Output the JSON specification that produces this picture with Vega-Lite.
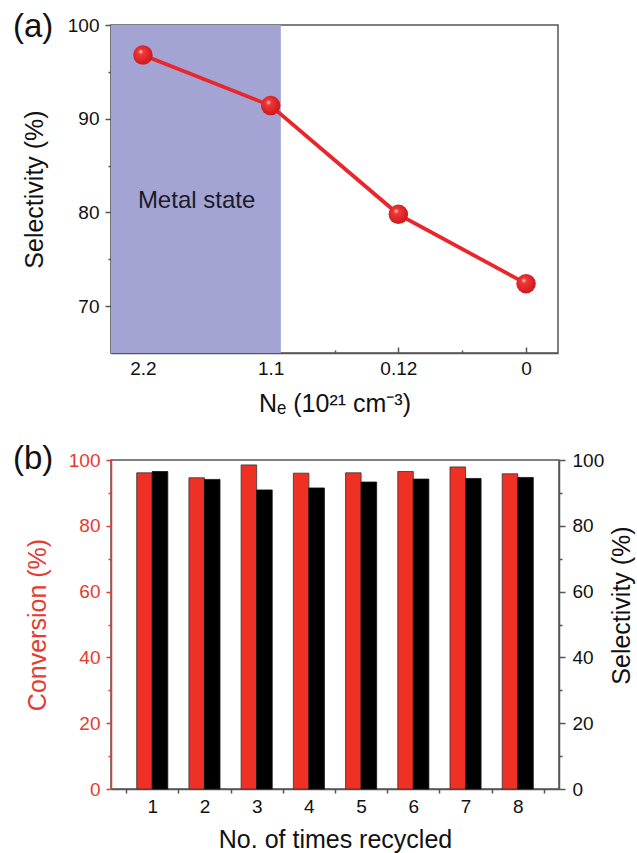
{
  "$schema": "https://vega.github.io/schema/vega-lite/v6.json",
  "padding": {"left": 12, "top": 10, "right": 0, "bottom": 0},
  "background": "white",
  "config": {
    "font": "Liberation Sans",
    "view": {"stroke": "#555555", "strokeWidth": 1.5},
    "axis": {
      "labelFont": "Liberation Sans", "titleFont": "Liberation Sans",
      "labelFontSize": 19, "titleFontSize": 25, "titleFontWeight": "normal",
      "labelColor": "#111111", "titleColor": "#111111",
      "domainColor": "#555555", "domainWidth": 1.5,
      "tickColor": "#555555", "tickWidth": 1.5,
      "grid": false, "labelFlush": false, "labelOverlap": false
    },
    "title": {"font": "Liberation Sans", "fontSize": 33, "fontWeight": "normal", "color": "#111111", "anchor": "start", "frame": "group", "offset": 0, "baseline": "alphabetic"}
  },
  "bounds": "flush",
  "spacing": 107,
  "vconcat": [
    {
      "width": 447,
      "height": 328,
      "title": {"text": "(a)", "dx": -98, "dy": 32},
      "data": {"values": [
        {"Ne": "2.2", "idx": 0, "sel": 96.8},
        {"Ne": "1.1", "idx": 1, "sel": 91.4},
        {"Ne": "0.12", "idx": 2, "sel": 79.8},
        {"Ne": "0", "idx": 3, "sel": 72.4}
      ]},
      "layer": [
        {
          "data": {"values": [{"region": "Metal state", "from": -0.25, "to": 1.08, "lo": 65, "hi": 100}]},
          "mark": {"type": "rect", "color": "#a4a4d4"},
          "encoding": {
            "x": {"field": "from", "type": "quantitative", "scale": {"domain": [-0.25, 3.25], "nice": false, "zero": false},
                  "axis": {"orient": "bottom", "values": [0, 1, 2, 3], "labelExpr": "['2.2','1.1','0.12','0'][datum.value]", "title": "Nₑ (10²¹ cm⁻³)", "tickSize": -6, "labelPadding": 12, "titlePadding": 13}},
            "x2": {"field": "to"},
            "y": {"field": "lo", "type": "quantitative", "scale": {"domain": [65, 100], "nice": false, "zero": false},
                  "axis": {"orient": "left", "values": [70, 80, 90, 100], "title": "Selectivity (%)", "tickSize": 6, "labelPadding": 6, "titlePadding": 20}},
            "y2": {"field": "hi"}
          }
        },
        {
          "mark": {"type": "line", "color": "#e8262b", "strokeWidth": 3.8},
          "encoding": {
            "x": {"field": "idx", "type": "quantitative", "axis": {"orient": "bottom", "values": [0.5, 1.5, 2.5], "labels": false, "domain": false, "tickSize": -3, "title": null}},
            "y": {"field": "sel", "type": "quantitative", "axis": {"orient": "left", "values": [75, 85, 95], "labels": false, "domain": false, "tickSize": 3, "title": null}}
          }
        },
        {
          "mark": {"type": "point", "shape": "circle", "filled": true, "size": 380, "opacity": 1, "strokeWidth": 0,
                   "fill": {"gradient": "radial", "x1": 0.38, "y1": 0.32, "r1": 0, "x2": 0.45, "y2": 0.45, "r2": 0.6,
                            "stops": [{"offset": 0, "color": "#ffd6d6"}, {"offset": 0.22, "color": "#f23838"}, {"offset": 1, "color": "#c8161a"}]}},
          "encoding": {
            "x": {"field": "idx", "type": "quantitative", "axis": null},
            "y": {"field": "sel", "type": "quantitative", "axis": null}
          }
        },
        {
          "data": {"values": [{"label": "Metal state", "px": 0.42, "py": 80.5}]},
          "mark": {"type": "text", "font": "Liberation Sans", "fontSize": 24, "color": "#1a1a2a", "align": "center", "baseline": "alphabetic"},
          "encoding": {
            "x": {"field": "px", "type": "quantitative", "axis": null},
            "y": {"field": "py", "type": "quantitative", "axis": null},
            "text": {"field": "label"}
          }
        }
      ],
      "resolve": {"axis": {"x": "independent", "y": "independent"}}
    },
    {
      "width": 448,
      "height": 329,
      "title": {"text": "(b)", "dx": -98, "dy": 29},
      "data": {"values": [
        {"cycle": "1", "metric": "Conversion", "value": 96.1},
        {"cycle": "2", "metric": "Conversion", "value": 94.6},
        {"cycle": "3", "metric": "Conversion", "value": 98.5},
        {"cycle": "4", "metric": "Conversion", "value": 96.0},
        {"cycle": "5", "metric": "Conversion", "value": 96.1},
        {"cycle": "6", "metric": "Conversion", "value": 96.5},
        {"cycle": "7", "metric": "Conversion", "value": 97.9},
        {"cycle": "8", "metric": "Conversion", "value": 95.8},
        {"cycle": "1", "metric": "Selectivity", "value": 96.5},
        {"cycle": "2", "metric": "Selectivity", "value": 94.1},
        {"cycle": "3", "metric": "Selectivity", "value": 90.9},
        {"cycle": "4", "metric": "Selectivity", "value": 91.5},
        {"cycle": "5", "metric": "Selectivity", "value": 93.3},
        {"cycle": "6", "metric": "Selectivity", "value": 94.2},
        {"cycle": "7", "metric": "Selectivity", "value": 94.4},
        {"cycle": "8", "metric": "Selectivity", "value": 94.7}
      ]},
      "layer": [
        {
          "transform": [{"filter": "datum.metric === 'Conversion'"}],
          "mark": {"type": "bar", "color": "#ee3124", "stroke": "#333333", "strokeWidth": 0.8},
          "encoding": {
            "x": {"field": "cycle", "type": "ordinal", "scale": {"type": "band", "paddingInner": 0, "paddingOuter": 0.29},
                  "axis": {"orient": "bottom", "labelAngle": 0, "tickBand": "extent", "tickSize": 4, "labelPadding": 4, "title": "No. of times recycled", "titlePadding": 11}},
            "xOffset": {"field": "metric", "scale": {"domain": ["Conversion", "Selectivity"], "paddingInner": 0, "paddingOuter": 0.68}},
            "y": {"field": "value", "type": "quantitative", "scale": {"domain": [0, 100], "nice": false},
                  "axis": {"orient": "left", "values": [0, 20, 40, 60, 80, 100], "title": "Conversion (%)", "tickSize": 5, "labelPadding": 6, "titlePadding": 18,
                           "domainColor": "#e8392f", "tickColor": "#e8392f", "labelColor": "#e8392f", "titleColor": "#e8392f"}}
          }
        },
        {
          "transform": [{"filter": "datum.metric === 'Selectivity'"}],
          "mark": {"type": "bar", "color": "#000000", "stroke": "#111111", "strokeWidth": 0.8},
          "encoding": {
            "x": {"field": "cycle", "type": "ordinal", "axis": null},
            "xOffset": {"field": "metric"},
            "y": {"field": "value", "type": "quantitative",
                  "axis": {"orient": "right", "values": [0, 20, 40, 60, 80, 100], "title": "Selectivity (%)", "tickSize": 6, "labelPadding": 7, "titlePadding": 6, "titleAngle": 270, "titleBaseline": "top", "titleY": 145, "titleAlign": "center"}}
          }
        },
        {
          "mark": {"type": "point", "opacity": 0},
          "encoding": {
            "x": {"field": "cycle", "type": "ordinal", "axis": null},
            "y": {"field": "value", "type": "quantitative", "axis": {"orient": "left", "values": [10, 30, 50, 70, 90], "labels": false, "domain": false, "tickSize": 3, "title": null, "tickColor": "#e8392f"}}
          }
        },
        {
          "mark": {"type": "point", "opacity": 0},
          "encoding": {
            "x": {"field": "cycle", "type": "ordinal", "axis": null},
            "y": {"field": "value", "type": "quantitative", "axis": {"orient": "right", "values": [10, 30, 50, 70, 90], "labels": false, "domain": false, "tickSize": 3, "title": null}}
          }
        }
      ],
      "resolve": {"axis": {"x": "independent", "y": "independent"}}
    }
  ]
}
